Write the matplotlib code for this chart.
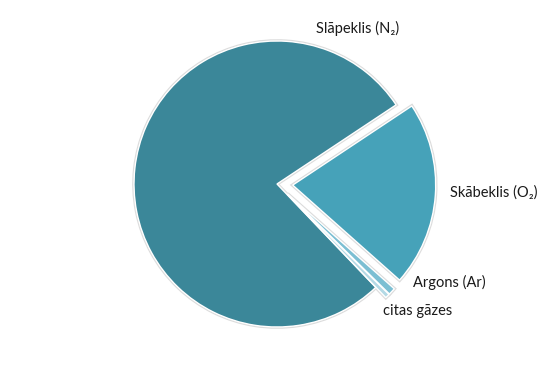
import matplotlib
matplotlib.use("Agg")
import matplotlib.pyplot as plt

# air composition, percent by volume (as drawn in the chart)
labels = ["Slāpeklis (N₂)", "Skābeklis (O₂)", "Argons (Ar)", "citas gāzes"]
values = [77.8, 20.9, 0.8, 0.5]
colors = ["#3b8799", "#46a2b9", "#7cbfd3", "#b3d9e5"]
explode = [0.0, 0.11, 0.1, 0.1]

# label anchors in data units (radius = 1)
label_pos = [(0.566, 1.091, "center"), (1.21, -0.063, "left"),
             (0.951, -0.692, "left"), (0.741, -0.888, "left")]

plt.rcParams['font.family'] = ['Lato', 'DejaVu Sans']

fig = plt.figure(figsize=(5.54, 3.69), dpi=100)
ax = fig.add_axes([0, 0, 1, 1])

start = 33.6 + values[0] / 100 * 360

# soft grey halo underneath, then the slices with a white rim
ax.pie(values, explode=explode, startangle=start, counterclock=False,
       colors=colors, wedgeprops=dict(edgecolor="#dcdcdc", linewidth=2.6))
ax.pie(values, explode=explode, startangle=start, counterclock=False,
       colors=colors, wedgeprops=dict(edgecolor="white", linewidth=1.0))

for lab, (x, y, ha) in zip(labels, label_pos):
    ax.text(x, y, lab, ha=ha, va="center", fontsize=10.5, color="#1a1a1a")

ax.set_aspect("auto")
ax.set_xlim(-277 / 143, 277 / 143)
ax.set_ylim(-185 / 143, 184 / 143)
ax.axis("off")

fig.savefig("out.png", dpi=100, facecolor="white")
